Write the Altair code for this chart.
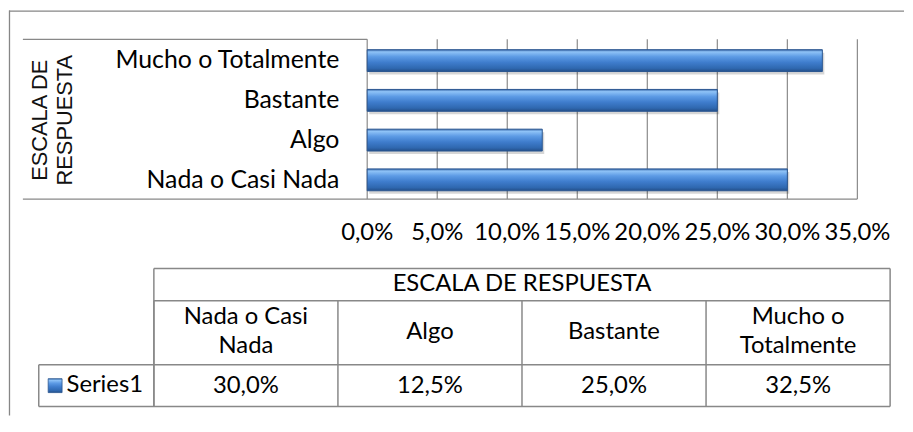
import altair as alt
import pandas as pd

# ---------------- data ----------------
categories = ["Nada o Casi Nada", "Algo", "Bastante", "Mucho o Totalmente"]
table_headers = ["Nada o Casi\nNada", "Algo", "Bastante", "Mucho o\nTotalmente"]
values = [0.30, 0.125, 0.25, 0.325]
series_name = "Series1"
axis_title = ["ESCALA DE", "RESPUESTA"]
table_title = "ESCALA DE RESPUESTA"
ticks = [0.0, 0.05, 0.10, 0.15, 0.20, 0.25, 0.30, 0.35]
tick_labels = ["0,0%", "5,0%", "10,0%", "15,0%", "20,0%", "25,0%", "30,0%", "35,0%"]

# ---------------- styling ----------------
W, H = 902, 408
FONT = "Lato"
TITLE_FONT = "Liberation Sans"
FS = 24
LINE = "#888888"
TXT = "#000000"

bars_df = pd.DataFrame({"cat": categories, "value": values, "col": table_headers})
ticks_df = pd.DataFrame({"tick": ticks, "label": tick_labels})
one = pd.DataFrame({"a": [0]})

y_order = categories[::-1]
x_scale = alt.Scale(domain=[0, 0.35], range=[361, 855], nice=False, zero=True)
y_scale = alt.Scale(domain=y_order, range=[30, 191], paddingInner=0.45, paddingOuter=0.235)
col_scale = alt.Scale(domain=table_headers, range=[146, 888], paddingInner=0, paddingOuter=0)

gradient = alt.Gradient(
    gradient="linear",
    stops=[
        alt.GradientStop(color="#3566a8", offset=0.0),
        alt.GradientStop(color="#8fc3f7", offset=0.1),
        alt.GradientStop(color="#5d9be5", offset=0.32),
        alt.GradientStop(color="#3f7dcd", offset=0.58),
        alt.GradientStop(color="#2f68b0", offset=0.85),
        alt.GradientStop(color="#24508a", offset=1.0),
    ],
    x1=0, x2=0, y1=0, y2=1,
)


def line(x1, y1, x2, y2, color=LINE, width=1.5):
    return alt.Chart(one).mark_rule(color=color, strokeWidth=width).encode(
        x=alt.value(x1), x2=alt.value(x2), y=alt.value(y1), y2=alt.value(y2)
    )


layers = []

# outer frame (top and left edges visible)
layers.append(line(0, 0.5, W, 0.5, color="#868686", width=1.3))
layers.append(line(0.5, 0, 0.5, H, color="#868686", width=1.3))

# category-axis box lines
layers.append(line(14, 29, 361, 29, width=1.3))
layers.append(line(14, 190, 855, 190, width=1.3))

# gridlines (through the value scale)
layers.append(
    alt.Chart(ticks_df).mark_rule(color="#8a8a8a", strokeWidth=1.2).encode(
        x=alt.X("tick:Q", scale=x_scale, axis=None),
        y=alt.value(29), y2=alt.value(190),
    )
)

# bar shadow
layers.append(
    alt.Chart(bars_df).mark_bar(color="#000000", opacity=0.16, xOffset=2, yOffset=3).encode(
        x=alt.X("value:Q", scale=x_scale, axis=None),
        y=alt.Y("cat:N", scale=y_scale, axis=None),
    )
)

# bars
layers.append(
    alt.Chart(bars_df).mark_bar(color=gradient, stroke="#2a5690", strokeWidth=1).encode(
        x=alt.X("value:Q", scale=x_scale, axis=None),
        y=alt.Y("cat:N", scale=y_scale, axis=None),
    )
)

# tick labels
layers.append(
    alt.Chart(ticks_df).mark_text(font=FONT, fontSize=FS, color=TXT, baseline="middle", align="center").encode(
        x=alt.X("tick:Q", scale=x_scale, axis=None),
        y=alt.value(224.5),
        text="label:N",
    )
)

# category labels
layers.append(
    alt.Chart(bars_df).mark_text(font=FONT, fontSize=FS + 1, color=TXT, baseline="middle", align="right").encode(
        y=alt.Y("cat:N", scale=y_scale, axis=None),
        x=alt.value(333),
        text="cat:N",
    )
)

# rotated axis title (two lines)
for txt, xpos in zip(axis_title, [31, 56]):
    layers.append(
        alt.Chart(pd.DataFrame({"t": [txt]})).mark_text(
            font=TITLE_FONT, fontSize=22, color="#111111", angle=270, baseline="middle", align="center"
        ).encode(x=alt.value(xpos), y=alt.value(110.5), text="t:N")
    )

# ---------------- data table ----------------
layers.append(line(146, 260, 888, 260))
layers.append(line(146, 292.5, 888, 292.5))
layers.append(line(30, 357, 888, 357))
layers.append(line(30, 399, 888, 399))
layers.append(line(146, 260, 146, 399))
layers.append(line(888, 260, 888, 399))
layers.append(line(30, 357, 30, 399))

# column boundaries through the table column scale
layers.append(
    alt.Chart(bars_df).mark_rule(color=LINE, strokeWidth=1.5).encode(
        x=alt.X("col:N", scale=col_scale, axis=None, bandPosition=0),
        y=alt.value(292.5), y2=alt.value(399),
    )
)

# table title
layers.append(
    alt.Chart(pd.DataFrame({"t": [table_title]})).mark_text(
        font=FONT, fontSize=FS, color=TXT, baseline="middle", align="center"
    ).encode(x=alt.value(517), y=alt.value(276), text="t:N")
)

# column headers: single-line ones centred in the row, two-line ones start higher
header_text = dict(font=FONT, fontSize=FS, color=TXT, baseline="middle", align="center",
                   lineBreak="\n", lineHeight=30)
layers.append(
    alt.Chart(bars_df).transform_filter("indexof(datum.col, '\\n') < 0").mark_text(**header_text).encode(
        x=alt.X("col:N", scale=col_scale, axis=None),
        y=alt.value(324),
        text="col:N",
    )
)
layers.append(
    alt.Chart(bars_df).transform_filter("indexof(datum.col, '\\n') >= 0").mark_text(**header_text).encode(
        x=alt.X("col:N", scale=col_scale, axis=None),
        y=alt.value(308.5),
        text="col:N",
    )
)

# values row
layers.append(
    alt.Chart(bars_df).transform_calculate(
        lbl="replace(format(datum.value, '.1%'), '.', ',')"
    ).mark_text(font=FONT, fontSize=FS, color=TXT, baseline="middle", align="center").encode(
        x=alt.X("col:N", scale=col_scale, axis=None),
        y=alt.value(378),
        text="lbl:N",
    )
)

# series legend key + name
layers.append(
    alt.Chart(one).mark_rect(color=gradient, stroke="#2a5690", strokeWidth=0.8).encode(
        x=alt.value(39.5), x2=alt.value(53.5), y=alt.value(371), y2=alt.value(385)
    )
)
layers.append(
    alt.Chart(pd.DataFrame({"t": [series_name]})).mark_text(
        font=FONT, fontSize=FS, color=TXT, baseline="middle", align="left"
    ).encode(x=alt.value(58), y=alt.value(377.5), text="t:N")
)

chart = (
    alt.layer(*layers)
    .resolve_scale(x="independent", y="independent")
    .properties(
        width=W,
        height=H,
        padding={"left": 1, "top": 1, "right": 1, "bottom": 1},
        autosize=alt.AutoSizeParams(type="none"),
        background="white",
    )
    .configure_view(stroke=None)
)

chart.save("out.html", embed_options={"renderer": "svg", "actions": False})
